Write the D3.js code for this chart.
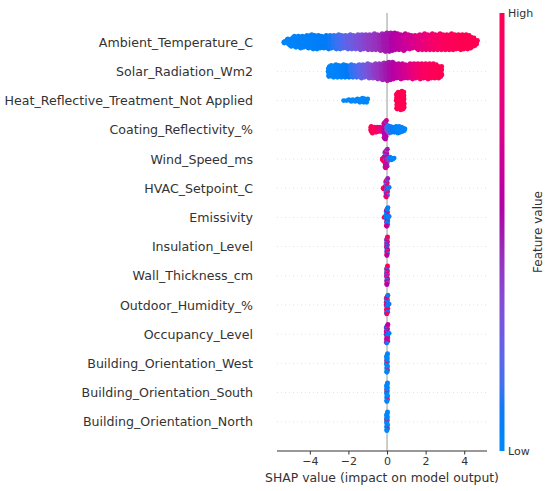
<!DOCTYPE html>
<html lang="en">
<head>
<meta charset="utf-8">
<script src="https://cdn.jsdelivr.net/npm/d3@7"></script>
<style>
  body { margin: 0; background: #fff; }
  text { font-family: "DejaVu Sans", sans-serif; }
</style>
</head>
<body>
<svg id="chart" width="550" height="491"></svg>
<script>
// features, top to bottom
var features = [
  "Ambient_Temperature_C",
  "Solar_Radiation_Wm2",
  "Heat_Reflective_Treatment_Not Applied",
  "Coating_Reflectivity_%",
  "Wind_Speed_ms",
  "HVAC_Setpoint_C",
  "Emissivity",
  "Insulation_Level",
  "Wall_Thickness_cm",
  "Outdoor_Humidity_%",
  "Occupancy_Level",
  "Building_Orientation_West",
  "Building_Orientation_South",
  "Building_Orientation_North"
];

// binned swarm: [shap value, number of dots, feature value 0..1]
var ambientBins = [
  [-5.3, 3, 0.02], [-5.1, 9, 0.02], [-4.9, 12, 0.03], [-4.7, 14, 0.03], [-4.5, 15, 0.04],
  [-4.3, 14, 0.04], [-4.1, 16, 0.05], [-3.9, 18, 0.05], [-3.7, 17, 0.06], [-3.5, 16, 0.07],
  [-3.3, 15, 0.08], [-3.1, 17, 0.09], [-2.9, 16, 0.1], [-2.7, 17, 0.12], [-2.5, 18, 0.15],
  [-2.3, 16, 0.18], [-2.1, 17, 0.22], [-1.9, 18, 0.25], [-1.7, 17, 0.28], [-1.5, 18, 0.31],
  [-1.3, 19, 0.34], [-1.1, 18, 0.37], [-0.9, 19, 0.4], [-0.7, 20, 0.42], [-0.5, 19, 0.44],
  [-0.3, 21, 0.47], [-0.1, 23, 0.5], [0.1, 23, 0.52], [0.3, 22, 0.55], [0.5, 20, 0.58],
  [0.7, 19, 0.61], [0.9, 21, 0.64], [1.1, 18, 0.67], [1.3, 16, 0.7], [1.5, 17, 0.73],
  [1.7, 19, 0.77], [1.9, 20, 0.8], [2.1, 19, 0.84], [2.3, 20, 0.87], [2.5, 19, 0.9],
  [2.7, 20, 0.92], [2.9, 19, 0.94], [3.1, 19, 0.96], [3.3, 20, 0.97], [3.5, 19, 0.98],
  [3.7, 18, 0.99], [3.9, 19, 1], [4.1, 18, 1], [4.3, 16, 1], [4.5, 11, 1], [4.65, 5, 1]
];
var solarBins = [
  [-3.0, 13, 0.02], [-2.8, 15, 0.03], [-2.6, 16, 0.04], [-2.4, 15, 0.05], [-2.2, 16, 0.07],
  [-2.0, 15, 0.09], [-1.8, 16, 0.12], [-1.6, 15, 0.15], [-1.4, 17, 0.2], [-1.2, 16, 0.25],
  [-1.0, 18, 0.3], [-0.8, 17, 0.35], [-0.6, 18, 0.4], [-0.4, 19, 0.43], [-0.2, 21, 0.47],
  [0.0, 23, 0.5], [0.2, 22, 0.54], [0.4, 19, 0.58], [0.6, 18, 0.62], [0.8, 19, 0.66],
  [1.0, 17, 0.7], [1.2, 18, 0.75], [1.4, 19, 0.8], [1.6, 18, 0.85], [1.8, 19, 0.9],
  [2.0, 18, 0.93], [2.2, 19, 0.95], [2.4, 18, 0.97], [2.6, 17, 0.99], [2.8, 13, 1]
];
var heatBins = [
  [-2.2, 1, 0], [-2.0, 2, 0], [-1.8, 3, 0], [-1.6, 4, 0], [-1.4, 5, 0], [-1.2, 6, 0], [-1.05, 5, 0],
  [0.55, 21, 1], [0.7, 23, 1], [0.85, 21, 1]
];
var coatingBins = [
  [-0.8, 9, 1], [-0.6, 7, 0.95], [-0.45, 6, 0.9], [-0.3, 6, 0.8],
  [-0.1, 12, 0.55], [-0.1, 8, 0.68], [-0.1, 3, 0.4],
  [0.05, 5, 0.3], [0.05, 5, 0.12],
  [0.2, 8, 0.1], [0.35, 7, 0.06], [0.5, 9, 0.04], [0.65, 8, 0.03], [0.8, 6, 0.02], [0.92, 3, 0.02]
];
var windBins = [
  [-0.2, 5, 1],
  [-0.05, 10, 0.5], [-0.05, 8, 0.7], [-0.05, 4, 0.3],
  [0.1, 3, 0.05], [0.1, 1, 0.4], [0.25, 3, 0.02], [0.36, 2, 0.02]
];
var hvacBins = [
  [-0.15, 3, 1],
  [-0.02, 8, 0.5], [-0.02, 7, 0.15], [-0.02, 7, 0.85],
  [0.1, 2, 0.1]
];
var emissivityBins = [
  [-0.1, 2, 0.95],
  [0.0, 14, 0.05], [0.0, 5, 0.6], [0.0, 3, 0.9],
  [0.1, 2, 0.1]
];
var insulationBins = [
  [0.0, 8, 0.92], [0.0, 7, 0.1], [0.0, 7, 0.6]
];
var wallBins = [
  [0.0, 8, 0.95], [0.0, 7, 0.15], [0.0, 7, 0.55]
];
var humidityBins = [
  [0.0, 9, 0.95], [0.0, 9, 0.1], [0.0, 4, 0.5],
  [0.1, 2, 0.1]
];
var occupancyBins = [
  [0.0, 10, 0.6], [0.0, 6, 0.8], [0.0, 6, 0.1],
  [0.1, 2, 0.05]
];
var westBins = [[0.0, 20, 0], [0.0, 2, 1]];
var southBins = [[0.0, 20, 0], [0.0, 2, 1]];
var northBins = [[0.0, 20, 0], [0.0, 2, 1]];

var swarms = [ambientBins, solarBins, heatBins, coatingBins, windBins, hvacBins, emissivityBins,
  insulationBins, wallBins, humidityBins, occupancyBins, westBins, southBins, northBins];

var xTicks = [-4, -2, 0, 2, 4];

var svg = d3.select("#chart");

var x = d3.scaleLinear().domain([-5.7, 5.18]).range([277, 487]);
// shap style y: row 0 is bottom feature, limits -1..N
var nF = features.length;
var y = d3.scaleLinear().domain([-1, nF]).range([451, 13]);
function rowY(i) { return y(nF - 1 - i); }

// shap red_blue colormap (Lch interpolation)
function shapColor(t) {
  var l = t < 0.5 ? 54 + (40 - 54) * t / 0.5 : 40 + (54 - 40) * (t - 0.5) / 0.5;
  var c = 70 + 20 * t;
  var h = 266.93 + (380.32 - 266.93) * t;
  return d3.hcl(h % 360, c, l).formatHex();
}

// dotted row lines
svg.append("g").selectAll("line")
  .data(features)
  .enter()
  .append("line")
  .attr("x1", x.range()[0]).attr("x2", x.range()[1])
  .attr("y1", function(d, i) { return rowY(i); })
  .attr("y2", function(d, i) { return rowY(i); })
  .style("stroke", "#cccccc")
  .style("stroke-width", 0.6)
  .style("stroke-dasharray", "1,3");

// zero line
svg.append("line")
  .attr("x1", x(0)).attr("x2", x(0))
  .attr("y1", y(nF)).attr("y2", y(-1))
  .style("stroke", "#999999")
  .style("stroke-width", 1);

// swarm layout
var r = 2.4;
var maxHalf = 9.8;
swarms.forEach(function(bins, i) {
  var cy = rowY(i);
  var groups = d3.groups(bins, function(b) { return b[0]; }).sort(function(a, b) { return a[0] - b[0]; });
  var maxN = d3.max(groups, function(g) { return d3.sum(g[1], function(b) { return b[1]; }); });
  var step = 2 * maxHalf / Math.max(maxN, 4);
  var xs = groups.map(function(g) { return g[0]; });
  var dots = [];
  groups.forEach(function(g, gi) {
    var gapL = gi > 0 ? xs[gi] - xs[gi - 1] : 0.1;
    var gapR = gi < xs.length - 1 ? xs[gi + 1] - xs[gi] : 0.1;
    var half = Math.min(0.1, gapL / 2, gapR / 2);
    if (groups.length === 1) half = 0.03;
    var col = [];
    g[1].forEach(function(b) {
      for (var j = 0; j < b[1]; j++) col.push({ key: (j + 0.5) / b[1], fv: b[2] });
    });
    col.sort(function(a, b) { return a.key - b.key; });
    col.forEach(function(p, k) {
      var layer = Math.ceil(k / 2) * (k % 2 === 0 ? 1 : -1);
      var off = ((k * 0.618034) % 1 - 0.5) * 2 * half;
      dots.push({ x: g[0] + off, y: cy + layer * step, fv: p.fv });
    });
  });
  svg.append("g").selectAll("circle")
    .data(dots)
    .enter()
    .append("circle")
    .attr("cx", function(d) { return x(d.x); })
    .attr("cy", function(d) { return d.y; })
    .attr("r", r)
    .style("fill", function(d) { return shapColor(d.fv); });
});

// feature labels
svg.append("g").selectAll("text")
  .data(features)
  .enter()
  .append("text")
  .attr("x", 253)
  .attr("y", function(d, i) { return rowY(i); })
  .attr("dy", "0.36em")
  .attr("text-anchor", "end")
  .style("font-size", "12.6px")
  .style("fill", "#333333")
  .text(function(d) { return d; });

// x axis
var xAxis = d3.axisBottom(x).tickValues(xTicks).tickSize(3.5).tickPadding(3);
var ax = svg.append("g")
  .attr("transform", "translate(0," + y(-1) + ")")
  .call(xAxis);
ax.select(".domain").style("stroke", "#333333").attr("d", "M" + x.range()[0] + ",0H" + x.range()[1]);
ax.selectAll(".tick line").style("stroke", "#333333");
ax.selectAll(".tick text")
  .style("font-family", "DejaVu Sans, sans-serif")
  .style("font-size", "11px")
  .style("fill", "#333333");

svg.append("text")
  .attr("x", (x.range()[0] + x.range()[1]) / 2)
  .attr("y", 482)
  .attr("text-anchor", "middle")
  .style("font-size", "12.4px")
  .style("fill", "#333333")
  .text("SHAP value (impact on model output)");

// colour bar
var defs = svg.append("defs");
var grad = defs.append("linearGradient")
  .attr("id", "cbar")
  .attr("x1", "0").attr("y1", "1").attr("x2", "0").attr("y2", "0");
d3.range(0, 1.0001, 0.05).forEach(function(t) {
  grad.append("stop").attr("offset", t).attr("stop-color", shapColor(t));
});
svg.append("rect")
  .attr("x", 499.5).attr("y", y(nF))
  .attr("width", 5).attr("height", y(-1) - y(nF))
  .style("fill", "url(#cbar)");

svg.append("text")
  .attr("x", 508).attr("y", y(nF))
  .attr("dy", "0.36em")
  .style("font-size", "11px")
  .style("fill", "#333333")
  .text("High");
svg.append("text")
  .attr("x", 508).attr("y", y(-1))
  .attr("dy", "0.36em")
  .style("font-size", "11px")
  .style("fill", "#333333")
  .text("Low");
svg.append("text")
  .attr("transform", "translate(538," + (y(nF) + y(-1)) / 2 + ") rotate(-90)")
  .attr("dy", "0.36em")
  .attr("text-anchor", "middle")
  .style("font-size", "12px")
  .style("fill", "#333333")
  .text("Feature value");
</script>
</body>
</html>
